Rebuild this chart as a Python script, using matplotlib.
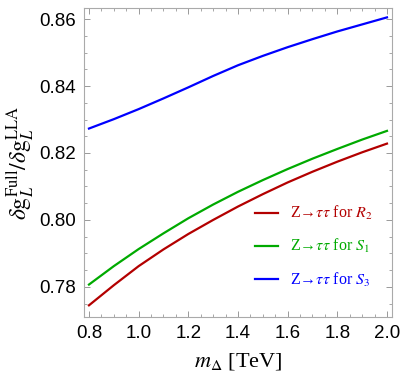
import matplotlib
matplotlib.use("Agg")
import matplotlib.pyplot as plt
from matplotlib.ticker import MultipleLocator, FormatStrFormatter

m_delta = [0.8, 0.9, 1.0, 1.1, 1.2, 1.3, 1.4, 1.5, 1.6, 1.7, 1.8, 1.9, 2.0]
ratio_R2 = [0.7745, 0.7805, 0.7862, 0.7912, 0.7958, 0.8000, 0.8040,
            0.8077, 0.8112, 0.8144, 0.8174, 0.8202, 0.8228]
ratio_S1 = [0.7807, 0.7862, 0.7913, 0.7960, 0.8005, 0.8046, 0.8084,
            0.8119, 0.8152, 0.8183, 0.8212, 0.8240, 0.8266]
ratio_S3 = [0.8273, 0.8301, 0.8331, 0.8363, 0.8396, 0.8430, 0.8462,
            0.8490, 0.8516, 0.8540, 0.8563, 0.8584, 0.8605]
labels = ["Z\u2192$\\tau\\tau$ for $R_2$",
          "Z\u2192$\\tau\\tau$ for $S_1$",
          "Z\u2192$\\tau\\tau$ for $S_3$"]
colors = ["#B30000", "#00AA00", "#0000FF"]

plt.rcParams["mathtext.fontset"] = "stix"

fig = plt.figure(figsize=(4.07, 3.89), dpi=100)
ax = fig.add_axes([0.2064, 0.185, 0.7566, 0.7944])

for y, lab, c in zip([ratio_R2, ratio_S1, ratio_S3], labels, colors):
    ax.plot(m_delta, y, color=c, lw=1.6, label=lab)

ax.set_xlim(0.78, 2.02)
ax.set_ylim(0.7710, 0.8633)
ax.xaxis.set_major_locator(MultipleLocator(0.2))
ax.xaxis.set_minor_locator(MultipleLocator(0.05))
ax.yaxis.set_major_locator(MultipleLocator(0.02))
ax.yaxis.set_minor_locator(MultipleLocator(0.005))
ax.xaxis.set_major_formatter(FormatStrFormatter("%.1f"))
ax.yaxis.set_major_formatter(FormatStrFormatter("%.2f"))

for s in ax.spines.values():
    s.set_color("#AAAAAA")
    s.set_linewidth(0.8)
ax.tick_params(which="both", direction="in", top=True, right=True, color="#999999")
ax.tick_params(which="major", length=4, width=0.7, labelsize=13.5, pad=6)
ax.tick_params(which="minor", length=2.3, width=0.6)
for t in ax.get_xticklabels() + ax.get_yticklabels():
    t.set_fontfamily("Liberation Sans")

ax.set_xlabel(r"$m_{\Delta}$ [TeV]", fontsize=16, family="Liberation Serif", labelpad=6)
ax.set_ylabel(r"$\delta\mathrm{g}_L^{\rm Full}/\delta\mathrm{g}_L^{\rm LLA}$", fontsize=17, labelpad=2)

leg = ax.legend(loc="lower right", bbox_to_anchor=(0.985, 0.045), frameon=False,
                handlelength=1.4, handletextpad=0.8, labelspacing=0.95,
                prop={"family": "Liberation Serif", "size": 11.5}, labelcolor="linecolor")

fig.savefig("out.png", dpi=100)
